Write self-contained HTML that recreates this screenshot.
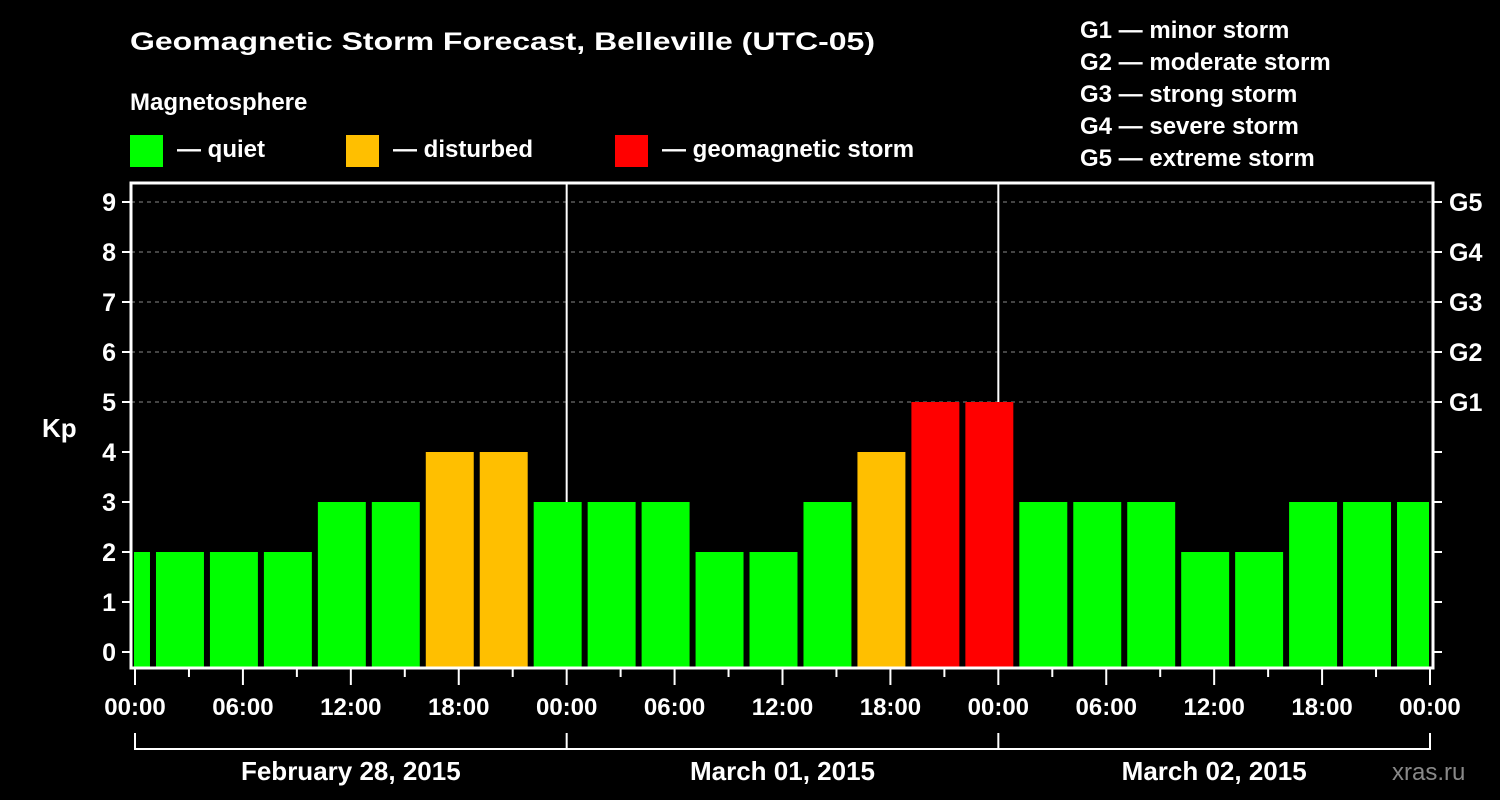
<!DOCTYPE html>
<html><head><meta charset="utf-8"><style>
html,body{margin:0;padding:0;background:#000;}
svg{display:block;font-family:"Liberation Sans",Arial,sans-serif;font-weight:bold;}
</style></head><body>
<svg id="chart" width="1500" height="800" viewBox="0 0 1500 800">
<rect width="1500" height="800" fill="#000"/>
<text x="130" y="50" fill="#fff" font-size="25" textLength="745" lengthAdjust="spacingAndGlyphs">Geomagnetic Storm Forecast, Belleville (UTC-05)</text>
<text x="130" y="110" fill="#fff" font-size="24">Magnetosphere</text>
<g><rect x="130" y="135" width="33" height="32" fill="#00ff00"/><text x="177" y="157" fill="#fff" font-size="24">— quiet</text></g>
<g><rect x="346" y="135" width="33" height="32" fill="#ffbf00"/><text x="393" y="157" fill="#fff" font-size="24">— disturbed</text></g>
<g><rect x="615" y="135" width="33" height="32" fill="#ff0000"/><text x="662" y="157" fill="#fff" font-size="24">— geomagnetic storm</text></g>
<g fill="#fff" font-size="24">
<text x="1080" y="38">G1 — minor storm</text>
<text x="1080" y="70">G2 — moderate storm</text>
<text x="1080" y="102">G3 — strong storm</text>
<text x="1080" y="134">G4 — severe storm</text>
<text x="1080" y="166">G5 — extreme storm</text>
</g>
<text x="42" y="437" fill="#fff" font-size="26">Kp</text>
<text x="1392" y="780" fill="#888" font-size="24" font-weight="normal">xras.ru</text>
<g id="grid"></g><g id="bars"></g><g id="axes"></g>
</svg>
<script>
const kpValues=[2,2,2,2,3,3,4,4,3,3,3,2,2,3,4,5,5,3,3,3,2,2,3,3,3];
const barStartHours=[-2,1,4,7,10,13,16,19,22,25,28,31,34,37,40,43,46,49,52,55,58,61,64,67,70];
const yTicks=[0,1,2,3,4,5,6,7,8,9];
const gLabels=["G1","G2","G3","G4","G5"];
const gLevels=[5,6,7,8,9];
const xTickLabels=["00:00","06:00","12:00","18:00","00:00","06:00","12:00","18:00","00:00","06:00","12:00","18:00","00:00"];
const dayLabels=["February 28, 2015","March 01, 2015","March 02, 2015"];
const NS="http://www.w3.org/2000/svg";
const L=131,R=1433,T=183,B=668;
const X=h=>135+h*(1295/72);
const Y=v=>652-v*50;
function mk(p,tag,a){const e=document.createElementNS(NS,tag);for(const k in a)e.setAttribute(k,a[k]);p.appendChild(e);return e;}
const grid=document.getElementById('grid'),bars=document.getElementById('bars'),axes=document.getElementById('axes');
gLevels.forEach(v=>{const l=mk(grid,'line',{x1:L,x2:R,y1:Y(v),y2:Y(v),stroke:'#888','stroke-dasharray':'4,4','stroke-width':1});

});
[24,48].forEach(h=>{const l=mk(grid,'line',{x1:X(h),x2:X(h),y1:T,y2:B,stroke:'#fff','stroke-width':2});

});
kpValues.forEach((v,i)=>{
 let x0=X(barStartHours[i])+3,x1=X(barStartHours[i]+3)-3;
 x0=Math.max(x0,L+3);x1=Math.min(x1,R-4);
 const c=v>=5?'#ff0000':(v>=4?'#ffbf00':'#00ff00');
 const r=mk(bars,'rect',{x:x0,y:Y(v),width:x1-x0,height:B-Y(v),fill:c});
 
 
});
const f=mk(axes,'rect',{x:L,y:T,width:R-L,height:B-T,fill:'none',stroke:'#fff','stroke-width':3});


yTicks.forEach(v=>{
 mk(axes,'line',{x1:122,x2:L,y1:Y(v),y2:Y(v),stroke:'#fff','stroke-width':2});
 mk(axes,'line',{x1:R,x2:1442,y1:Y(v),y2:Y(v),stroke:'#fff','stroke-width':2});
 const t=mk(axes,'text',{x:116,y:Y(v)+9,fill:'#fff','font-size':25,'text-anchor':'end'});t.textContent=v;
 
 
});
gLevels.forEach((v,i)=>{const t=mk(axes,'text',{x:1449,y:Y(v)+9,fill:'#fff','font-size':25});t.textContent=gLabels[i];
 
 });
for(let h=0;h<=72;h+=3){const major=h%6===0;mk(axes,'line',{x1:X(h),x2:X(h),y1:B,y2:B+(major?17:9),stroke:'#fff','stroke-width':2});}
xTickLabels.forEach((s,i)=>{const t=mk(axes,'text',{x:X(i*6),y:715,fill:'#fff','font-size':24,'text-anchor':'middle'});t.textContent=s;
 
 });
mk(axes,'line',{x1:X(0),x2:X(72),y1:749,y2:749,stroke:'#fff','stroke-width':2});
[0,24,48,72].forEach(h=>mk(axes,'line',{x1:X(h),x2:X(h),y1:733,y2:750,stroke:'#fff','stroke-width':2}));
dayLabels.forEach((s,i)=>{const t=mk(axes,'text',{x:X(i*24+12),y:780,fill:'#fff','font-size':26,'text-anchor':'middle'});t.textContent=s;
 
 });
</script>
</body></html>
